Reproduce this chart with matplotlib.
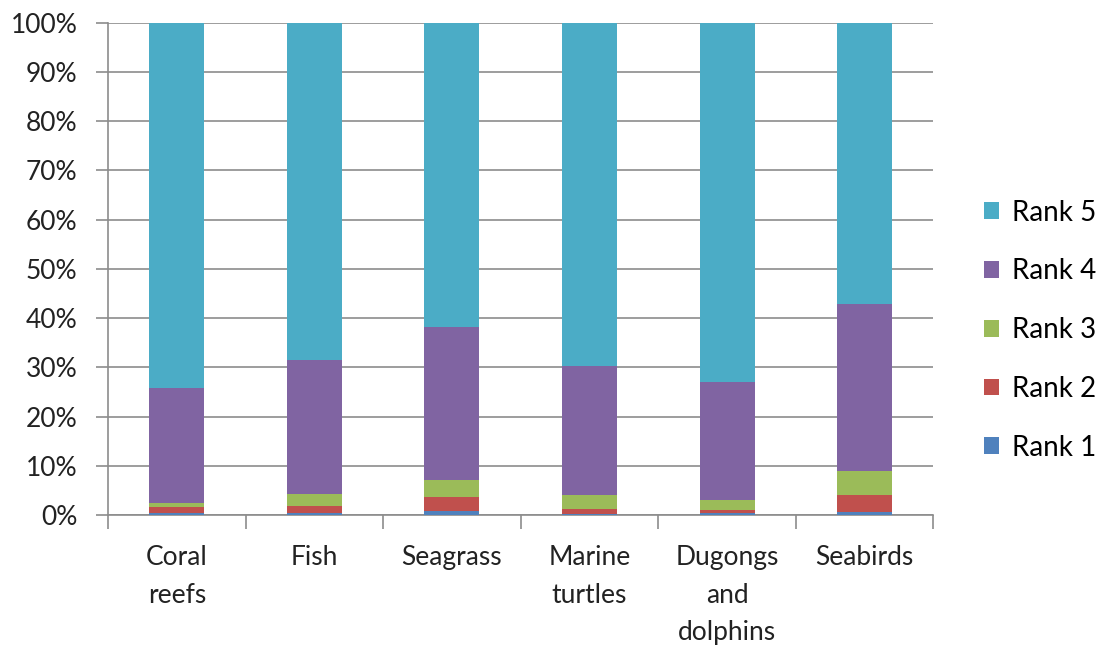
import matplotlib
matplotlib.use("Agg")
import matplotlib.pyplot as plt
import numpy as np

categories = ["Coral\nreefs", "Fish", "Seagrass", "Marine\nturtles", "Dugongs\nand\ndolphins", "Seabirds"]
rank1 = [0.4, 0.4, 0.7, 0.1, 0.3, 0.6]
rank2 = [1.2, 1.4, 3.0, 1.2, 0.7, 3.5]
rank3 = [0.9, 2.5, 3.4, 2.7, 2.1, 4.9]
rank4 = [23.2, 27.1, 31.0, 26.3, 24.0, 33.8]
rank5 = [74.3, 68.6, 61.9, 69.7, 72.9, 57.2]

series = [("Rank 1", rank1, "#4F81BD"), ("Rank 2", rank2, "#C0504D"),
          ("Rank 3", rank3, "#9BBB59"), ("Rank 4", rank4, "#8064A2"),
          ("Rank 5", rank5, "#4BACC6")]

plt.rcParams['font.family'] = ['Lato', 'DejaVu Sans']

fig = plt.figure(figsize=(11.02, 6.51), dpi=100)
ax = fig.add_axes([0.098, 0.209, 0.749, 0.756])

x = np.arange(len(categories)) + 0.5
bottom = np.zeros(len(categories))
handles = []
for name, vals, col in series:
    vals = np.array(vals, dtype=float)
    h = ax.bar(x, vals, width=0.4, bottom=bottom, color=col, label=name, zorder=3)
    handles.append(h)
    bottom += vals

ax.set_xlim(0, len(categories))
ax.set_ylim(0, 100)
ax.set_yticks(np.arange(0, 101, 10))
ax.set_yticklabels([f"{v}%" for v in range(0, 101, 10)], fontsize=19, color="#222222")
ax.yaxis.grid(True, color="#8c8c8c", linewidth=1.2, zorder=0)
ax.tick_params(axis='y', length=9, width=1.2, color="#8c8c8c", pad=13)

ax.set_xticks(x)
ax.set_xticklabels(categories, fontsize=19, color="#222222", linespacing=1.62)
ax.set_xticks(np.arange(0, len(categories) + 1), minor=True)
ax.tick_params(axis='x', which='major', length=0, pad=22)
ax.tick_params(axis='x', which='minor', length=10, width=1.2, color="#8c8c8c")

for s in ["top", "right"]:
    ax.spines[s].set_visible(False)
for s in ["left", "bottom"]:
    ax.spines[s].set_color("#8c8c8c")
    ax.spines[s].set_linewidth(1.2)

leg = fig.legend(handles[::-1], [s[0] for s in series][::-1], loc="center left",
                 bbox_to_anchor=(0.893, 0.493), frameon=False, fontsize=20,
                 handlelength=0.55, handleheight=0.55, handletextpad=0.45,
                 labelspacing=1.18, borderpad=0, borderaxespad=0)

fig.savefig("out.png", dpi=100)
